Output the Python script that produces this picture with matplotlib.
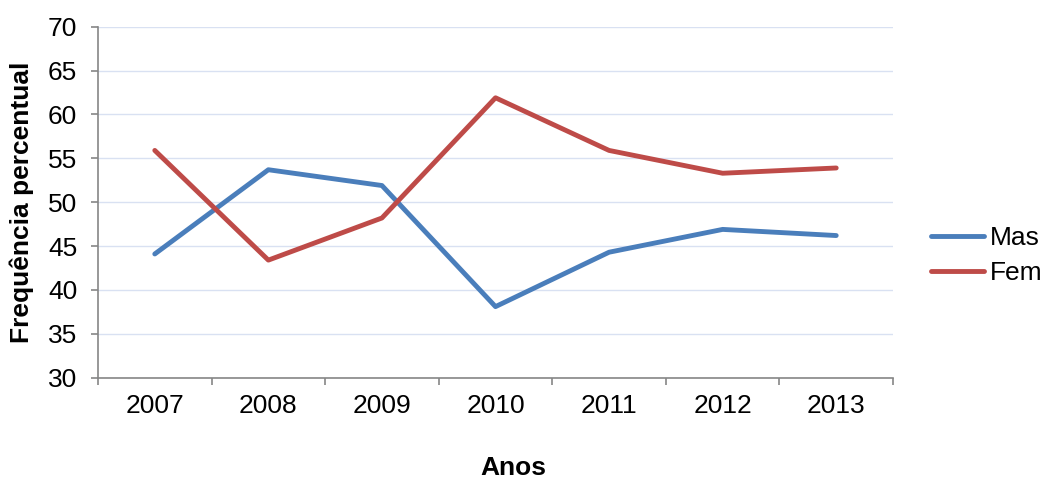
import numpy as np
import matplotlib
matplotlib.use("Agg")
import matplotlib.pyplot as plt

# data
anos = ["2007", "2008", "2009", "2010", "2011", "2012", "2013"]
mas = [44.1, 53.7, 51.9, 38.1, 44.3, 46.9, 46.2]
fem = [55.9, 43.4, 48.2, 61.9, 55.9, 53.3, 53.9]

plt.rcParams["font.family"] = ["Liberation Sans", "DejaVu Sans"]

fig = plt.figure(figsize=(10.44, 4.8), dpi=100)
ax = fig.add_axes([98 / 1044, 1 - 377.7 / 480, 795 / 1044, 351 / 480])

x = np.arange(len(anos))
ax.plot(x, mas, color="#4a7ebb", lw=3.5, solid_capstyle="round", solid_joinstyle="round", label="Mas", zorder=3)
ax.plot(x, fem, color="#be4b48", lw=3.5, solid_capstyle="round", solid_joinstyle="round", label="Fem", zorder=3)

ax.set_xlim(-0.5, len(anos) - 0.5)
ax.set_ylim(30, 70)
ax.set_yticks(np.arange(30, 71, 5))
ax.yaxis.grid(True, color="#d9e1f2", lw=1)
ax.set_axisbelow(True)

# category boundaries as major ticks, labels on minor ticks
ax.set_xticks(np.arange(-0.5, len(anos), 1))
ax.set_xticklabels([])
ax.set_xticks(x, minor=True)
ax.set_xticklabels(anos, minor=True)
ax.tick_params(axis="x", which="major", length=5, width=1.2, color="#868686", direction="out")
ax.tick_params(axis="x", which="minor", length=0, pad=12, labelsize=19)
ax.tick_params(axis="y", length=5, width=1.2, color="#868686", pad=10, labelsize=19)

for s in ["top", "right"]:
    ax.spines[s].set_visible(False)
for s in ["left", "bottom"]:
    ax.spines[s].set_color("#868686")
    ax.spines[s].set_linewidth(1.2)

ax.set_ylabel("Frequência percentual", fontsize=19, fontweight="bold", va="center")
ax.yaxis.set_label_coords(-0.0956, 0.5)
ax.set_xlabel("Anos", fontsize=19, fontweight="bold", va="center")
ax.xaxis.set_label_coords(0.5226, -0.257)

ax.legend(loc="center left", bbox_to_anchor=(1.035, 0.348), frameon=False, fontsize=19,
          handlelength=2.0, handletextpad=0.2, labelspacing=0.4, borderaxespad=0)

fig.savefig("out.png", dpi=100)
